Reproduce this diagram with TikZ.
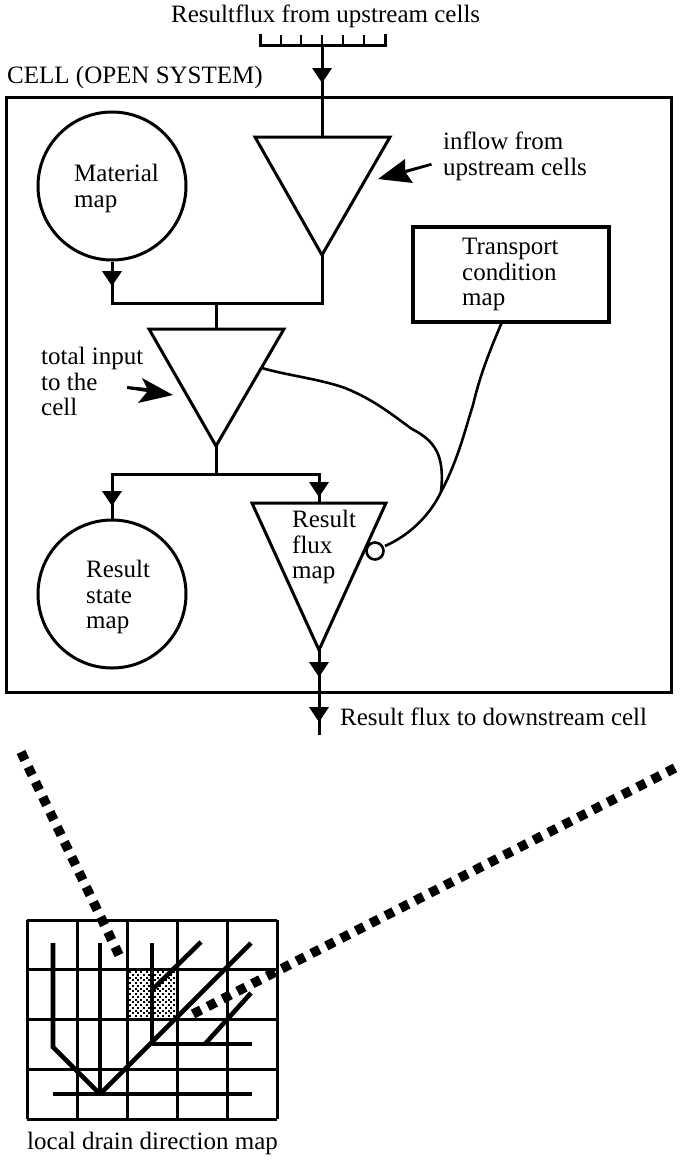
\documentclass[tikz,border=0pt]{standalone}
\usepackage{fontspec}
\setmainfont{Liberation Serif}
\tikzset{
  x=1pt,y=-1pt,
  wire/.style={line width=3pt,line join=miter},
  thin wire/.style={line width=2.6pt},
  stream/.style={line width=4.6pt},
  grid line/.style={line width=3pt},
  chain/.style={line width=9.5pt},
  tri/.style={wire,fill=white},
  lab/.style={font=\fontsize{25}{25.5}\selectfont,align=left,anchor=north west,inner sep=0pt},
  round node/.style={circle,draw,line width=3pt,minimum size=148pt,inner sep=0pt}
}
\newcommand{\flowhead}[2]{\fill[black] (#1-10,#2) -- (#1+10,#2) -- (#1,#2+15) -- cycle;}
\begin{document}
\begin{tikzpicture}
\useasboundingbox (0,0) rectangle (686,1165);
% outer cell
\node[draw,line width=3pt,minimum width=665pt,minimum height=595pt,inner sep=0pt] (cell) at (338.5,394.5) {};
\node[lab] (t1) at (171,5) {Resultflux from upstream cells};
\node[lab] (t2) at (7,66) {CELL (OPEN SYSTEM)};
% comb
\coordinate (cl) at (260,45); \coordinate (cr) at (385,45); \coordinate (cm) at (322,45);
\draw[wire] (260,34) -- (cl) -- (cr) -- (385,34);
\foreach \x in {281,301,322,343,364} \draw[thin wire] (\x,35) -- (\x,45);
% triangles
\coordinate (a1) at (255,137); \coordinate (a2) at (390,137); \coordinate (a3) at (322,255);
\coordinate (b1) at (149,329); \coordinate (b2) at (284,329); \coordinate (b3) at (216,446);
\coordinate (c1) at (252,503); \coordinate (c2) at (386,503); \coordinate (c3) at (319,650);
\coordinate (atop) at (322,137);
\coordinate (btop) at (216,329);
\coordinate (ctop) at (319,503);
\node[round node] (material) at (112,186) {};
\node[round node] (state) at (112,594) {};
\node[draw,line width=3.6pt,minimum width=196pt,minimum height=95pt,inner sep=0pt] (transport) at (511,274.5) {};
\coordinate (j1) at (112,303); \coordinate (j2) at (322,303); \coordinate (j3) at (216,303);
\coordinate (k0) at (216,474); \coordinate (k1) at (112,474); \coordinate (k2) at (319,474);
\coordinate (out) at (319,735);
\draw[wire] (cm) -- (atop);
\draw[wire] (material.south) -- (j1) -- (j2) -- (a3);
\draw[wire] (j3) -- (btop);
\draw[wire] (b3) -- (k0);
\draw[wire] (state.north) -- (k1) -- (k2) -- (ctop);
\draw[wire] (c3) -- (out);
\draw[tri] (a1) -- (a2) -- (a3) -- cycle;
\draw[tri] (b1) -- (b2) -- (b3) -- cycle;
\draw[tri] (c1) -- (c2) -- (c3) -- cycle;
\flowhead{322}{68}
\flowhead{112}{271}
\flowhead{112}{491}
\flowhead{319}{482}
\flowhead{319}{662}
\flowhead{319}{707}
% labels
\node[lab] (t3) at (443,132) {inflow from\\upstream cells};
\node[lab] (t4) at (74,164) {Material\\map};
\node[lab] (t5) at (462,238) {Transport\\condition\\map};
\node[lab] (t6) at (41,347) {total input\\to the\\cell};
\node[lab] (t7) at (292,510) {Result\\flux\\map};
\node[lab] (t8) at (86,560) {Result\\state\\map};
\node[lab] (t9) at (340,708) {Result flux to downstream cell};
\node[lab] (t10) at (27,1132) {local drain direction map};
% pointer arrows
\fill[black] (378,179) -- (405,159) -- (405,170) -- (431,163) -- (432,165.5) -- (406,173) -- (413,183) -- cycle;
\fill[black] (173,395) -- (142,378) -- (147,388) -- (127,386) -- (127,389) -- (147,392) -- (138,403) -- cycle;
% feedback curves
\node[circle,draw,line width=2.6pt,minimum size=17pt,inner sep=0pt] (valve) at (375,551) {};
\coordinate (m) at (441,492);
\draw[thin wire] (b2) ++(-22,39) coordinate (s1) (s1) .. controls (285,375) and (320,379) .. (345,388)
  .. controls (375,400) and (395,417) .. (412,429)
  .. controls (435,441) and (445,455) .. (441,492);
\draw[thin wire] (valve) ++(10,-5) coordinate (s2) (s2) .. controls (410,535) and (430,515) .. (441,492)
  .. controls (458,460) and (465,430) .. (473,405)
  .. controls (480,375) and (490,350) .. (502,322);
% map
\begin{scope}
\clip (129,971) rectangle (175,1017);
\foreach \i in {0,...,8} \foreach \j in {0,...,8} {
  \fill[black] (129+5.5*\i,971+5.5*\j) rectangle ++(2.2,2.2);
  \fill[black] (131.75+5.5*\i,973.75+5.5*\j) rectangle ++(2.2,2.2);
}
\end{scope}
\foreach \x in {27,77,127,177,227,277} \draw[grid line] (\x,920) -- (\x,1119);
\foreach \y in {920,969,1019,1069,1119} \draw[grid line] (27,\y) -- (277,\y);
\draw[stream,line join=miter] (53,943) -- (53,1047) -- (100,1094);
\draw[stream] (100,943) -- (100,1094);
\draw[stream] (152,943) -- (152,1044);
\draw[stream] (100,1094) -- (251,943);
\draw[stream] (152,990) -- (201,942);
\draw[stream] (53,1094) -- (252,1094);
\draw[stream] (152,1044) -- (252,1044);
\draw[stream] (205,1044) -- (251,993);
\coordinate (ca) at (21,752); \coordinate (cb) at (119,955);
\coordinate (cc) at (675,768); \coordinate (cd) at (193,1014);
\draw[chain,dash pattern=on 9pt off 7.65pt] (ca) -- (cb);
\draw[chain,dash pattern=on 9pt off 7.63pt] (cc) -- (cd);
\end{tikzpicture}
\end{document}
